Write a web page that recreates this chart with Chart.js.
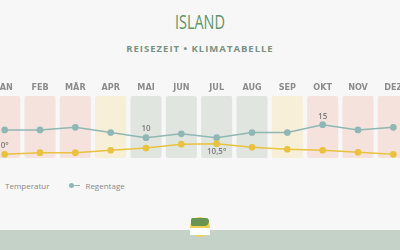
<!DOCTYPE html>
<html lang="de">
<head>
<meta charset="utf-8">
<script src="https://cdn.jsdelivr.net/npm/chart.js@4/dist/chart.umd.min.js"></script>
<style>
  html, body { margin: 0; padding: 0; }
  body { width: 400px; height: 250px; background: #f7f7f7; position: relative; overflow: hidden; font-family: "Open Sans", sans-serif; }
  .title { position: absolute; top: 8px; left: 0; width: 400px; text-align: center; color: #5f9468; font-size: 20px; font-weight: 400; transform: scaleX(0.72); }
  .subtitle { position: absolute; top: 42px; left: 0; width: 400px; text-align: center; color: #7a9284; font-size: 9.5px; font-weight: 700; letter-spacing: 1px; }
  .chartBox { position: absolute; left: -13px; top: 75px; width: 424px; height: 83px; }
  .legend { position: absolute; left: -11px; top: 180px; font-size: 8px; color: #8a8a8a; display: flex; align-items: center; }
  .legend .item { display: flex; align-items: center; margin-right: 20px; }
  .legend .mark { position: relative; width: 11px; height: 5px; margin-right: 5px; }
  .legend .mark .dot { position: absolute; left: 0; top: 0; width: 5px; height: 5px; border-radius: 50%; }
  .legend .mark .ln { position: absolute; left: 4px; top: 2px; width: 7px; height: 1.2px; }
  .band { position: absolute; left: 0; top: 230px; width: 400px; height: 20px; background: #c4d2c7; }
  .logo { position: absolute; left: 189px; top: 216px; width: 22px; height: 22px; }
  .logo .sun { position: absolute; left: 1px; top: 1px; width: 20px; height: 20px; border-radius: 50%; background: #f0cf52; }
  .logo .map { position: absolute; left: 2px; top: 2px; width: 18px; height: 8px; background: #6a9550; border-radius: 3px 6px 8px 3px; }
  .logo .tag { position: absolute; left: 1px; top: 12px; width: 20px; height: 7px; background: #ffffff; }
</style>
</head>
<body>
<div class="title">ISLAND</div>
<div class="subtitle">REISEZEIT • KLIMATABELLE</div>
<div class="chartBox"><canvas id="klima"></canvas></div>
<div class="legend">
  <div class="item"><span class="mark"><span class="dot" style="background:#e9c23f"></span><span class="ln" style="background:#e9c23f"></span></span>Temperatur</div>
  <div class="item"><span class="mark"><span class="dot" style="background:#8fb7b4"></span><span class="ln" style="background:#8fb7b4"></span></span>Regentage</div>
</div>
<div class="band"></div>
<div class="logo"><div class="sun"></div><div class="map"></div><div class="tag"></div></div>
<script>
// Klimadaten Island
const months = ['JAN', 'FEB', 'MÄR', 'APR', 'MAI', 'JUN', 'JUL', 'AUG', 'SEP', 'OKT', 'NOV', 'DEZ'];
const temperatur = [0, 1.6, 1.6, 4, 6.2, 10, 10.5, 7, 5, 4, 2, 0];
const regentage = [13, 13, 14, 12, 10, 11.5, 10, 12, 12, 15, 13, 14];
// Reisezeit-Bewertung pro Monat: 0 = schlecht, 1 = mittel, 2 = gut
const reisezeit = [0, 0, 0, 1, 2, 2, 2, 2, 1, 0, 0, 0];

const ratingColors = ['#f5e2dc', '#f7efd8', '#e1e5e0'];
const tempColor = '#e9c23f';
const rainColor = '#8fb7b4';

const fmt = v => String(v).replace('.', ',');

// min/max labels on the lines
const minMaxLabels = {
    id: 'minMaxLabels',
    afterDatasetsDraw(chart) {
        const ctx = chart.ctx;
        const x = chart.scales.x;
        const drawLabel = (arr, axisId, suffix, pos) => {
            const min = Math.min(...arr), max = Math.max(...arr);
            const iMin = arr.indexOf(min), iMax = arr.indexOf(max);
            const ys = chart.scales[axisId];
            [[iMin, min, pos.min], [iMax, max, pos.max]].forEach(([i, v, off]) => {
                ctx.fillText(fmt(v) + suffix, x.getPixelForValue(i), ys.getPixelForValue(v) + off);
            });
        };
        ctx.save();
        ctx.font = '600 8px "Open Sans", sans-serif';
        ctx.fillStyle = '#7a7a7a';
        ctx.textAlign = 'center';
        ctx.textBaseline = 'middle';
        drawLabel(temperatur, 'yT', '°', {min: -9, max: 8});
        drawLabel(regentage, 'yR', '', {min: -9, max: -8});
        ctx.restore();
    }
};

const ctx = document.getElementById('klima').getContext('2d');
new Chart(ctx, {
    data: {
        labels: months,
        datasets: [
            {
                type: 'line',
                label: 'Temperatur',
                data: temperatur,
                yAxisID: 'yT',
                borderColor: tempColor,
                backgroundColor: tempColor,
                borderWidth: 1.5,
                pointRadius: 2.6,
                tension: 0,
                order: 0
            },
            {
                type: 'line',
                label: 'Regentage',
                data: regentage,
                yAxisID: 'yR',
                borderColor: rainColor,
                backgroundColor: rainColor,
                borderWidth: 1.5,
                pointRadius: 2.6,
                tension: 0,
                order: 1
            },
            {
                type: 'bar',
                label: 'Reisezeit',
                data: reisezeit.map(() => [0, 1]),
                yAxisID: 'yB',
                backgroundColor: reisezeit.map(r => ratingColors[r]),
                borderRadius: 2,
                borderSkipped: false,
                barPercentage: 0.88,
                categoryPercentage: 1,
                order: 2
            }
        ]
    },
    options: {
        responsive: true,
        maintainAspectRatio: false,
        animation: false,
        layout: { padding: 0, autoPadding: false },
        plugins: {
            legend: { display: false },
            tooltip: { enabled: false }
        },
        scales: {
            x: {
                position: 'top',
                afterFit(scale) { scale.height = 21; },
                grid: { display: false, drawTicks: false },
                border: { display: false },
                ticks: {
                    color: '#8c8c8c',
                    padding: 3,
                    font: { family: '"Liberation Sans Narrow", "DejaVu Sans Condensed", sans-serif', size: 9, weight: 'bold' }
                }
            },
            yT: { display: false, min: -3.67, max: 57.75 },
            yR: { display: false, min: 2.19, max: 26.04 },
            yB: { display: false, min: 0, max: 1 }
        }
    },
    plugins: [minMaxLabels]
});
</script>
</body>
</html>
